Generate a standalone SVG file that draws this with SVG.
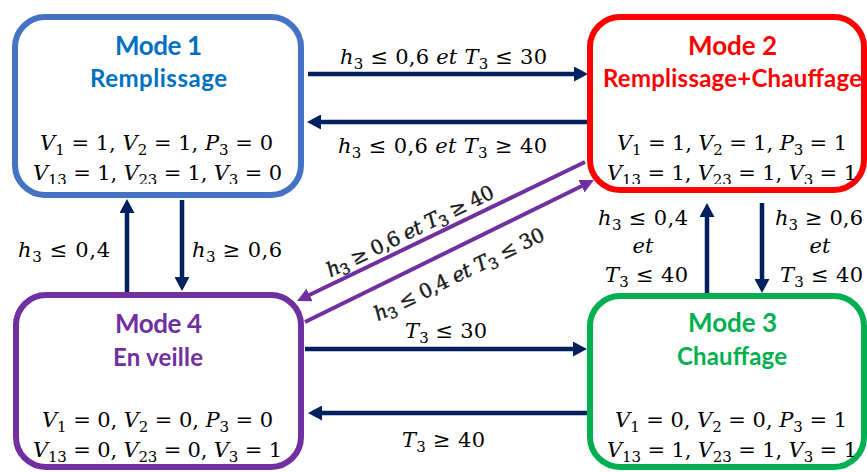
<svg xmlns="http://www.w3.org/2000/svg" width="867" height="472" viewBox="0 0 867 472">
<style>
.box{fill:#fff;stroke-width:6}
.t{font-family:Lato,"Open Sans","Liberation Sans",sans-serif;font-weight:700;text-anchor:middle}
.t1{font-size:26px}
.t2{font-size:24px}
.m{font-family:"DejaVu Serif","Liberation Serif",serif;font-size:21px;fill:#000}
.i{font-style:italic}
.s{font-size:15px;font-style:normal}
.a{stroke:#002060;stroke-width:4.5;fill:none}
.p{stroke:#7030A0;stroke-width:4;fill:none}
.dl{font-size:20px;fill:#1a1a1a;stroke:#1a1a1a;stroke-width:0.4}
</style>
<defs>
<marker id="ah" markerUnits="userSpaceOnUse" markerWidth="14" markerHeight="15" refX="9" refY="7.5" orient="auto">
<path d="M0,0 L14,7.5 L0,15 z" fill="#002060"/>
</marker>
<marker id="ph" markerUnits="userSpaceOnUse" markerWidth="14" markerHeight="14" refX="9" refY="7" orient="auto">
<path d="M0,0 L14,7 L0,14 z" fill="#7030A0"/>
</marker>
<clipPath id="cTop"><rect x="0" y="0" width="867" height="184"/></clipPath>
<clipPath id="cBot"><rect x="0" y="0" width="867" height="462"/></clipPath>
</defs>

<g id="connectors">
<line class="a" x1="308" y1="74" x2="583" y2="74" marker-end="url(#ah)"/>
<line class="a" x1="587" y1="122" x2="312" y2="122" marker-end="url(#ah)"/>
<line class="a" x1="127" y1="292" x2="127" y2="204" marker-end="url(#ah)"/>
<line class="a" x1="182" y1="200" x2="182" y2="286" marker-end="url(#ah)"/>
<line class="a" x1="707" y1="293" x2="707" y2="208" marker-end="url(#ah)"/>
<line class="a" x1="762" y1="203" x2="762" y2="288" marker-end="url(#ah)"/>
<line class="a" x1="305" y1="349" x2="582" y2="349" marker-end="url(#ah)"/>
<line class="a" x1="588" y1="413" x2="313" y2="413" marker-end="url(#ah)"/>
<line class="p" x1="585" y1="162" x2="301.5" y2="298.8" marker-end="url(#ph)"/>
<line class="p" x1="305" y1="322" x2="589.5" y2="182.2" marker-end="url(#ph)"/>

<text class="m" x="340" y="64" textLength="207"><tspan class="i">h</tspan><tspan class="s" dy="5">3</tspan><tspan dy="-5"> ≤ 0,6 </tspan><tspan class="i">et T</tspan><tspan class="s" dy="5">3</tspan><tspan dy="-5"> ≤ 30</tspan></text>
<text class="m" x="338" y="153" textLength="209"><tspan class="i">h</tspan><tspan class="s" dy="5">3</tspan><tspan dy="-5"> ≤ 0,6 </tspan><tspan class="i">et T</tspan><tspan class="s" dy="5">3</tspan><tspan dy="-5"> ≥ 40</tspan></text>
<text class="m" x="18" y="257" textLength="92"><tspan class="i">h</tspan><tspan class="s" dy="5">3</tspan><tspan dy="-5"> ≤ 0,4</tspan></text>
<text class="m" x="192" y="257" textLength="90"><tspan class="i">h</tspan><tspan class="s" dy="5">3</tspan><tspan dy="-5"> ≥ 0,6</tspan></text>
<text class="m" x="598" y="225" textLength="90"><tspan class="i">h</tspan><tspan class="s" dy="5">3</tspan><tspan dy="-5"> ≤ 0,4</tspan></text>
<text class="m i" x="643" y="253" text-anchor="middle">et</text>
<text class="m" x="605" y="282" textLength="83"><tspan class="i">T</tspan><tspan class="s" dy="5">3</tspan><tspan dy="-5"> ≤ 40</tspan></text>
<text class="m" x="775" y="225" textLength="88"><tspan class="i">h</tspan><tspan class="s" dy="5">3</tspan><tspan dy="-5"> ≥ 0,6</tspan></text>
<text class="m i" x="820" y="253" text-anchor="middle">et</text>
<text class="m" x="780" y="282" textLength="83"><tspan class="i">T</tspan><tspan class="s" dy="5">3</tspan><tspan dy="-5"> ≤ 40</tspan></text>
<text class="m" x="405" y="338" textLength="82"><tspan class="i">T</tspan><tspan class="s" dy="5">3</tspan><tspan dy="-5"> ≤ 30</tspan></text>
<text class="m" x="402" y="447" textLength="83"><tspan class="i">T</tspan><tspan class="s" dy="5">3</tspan><tspan dy="-5"> ≥ 40</tspan></text>
<g transform="translate(410,231) rotate(-26)">
<text class="m dl" x="-92" y="7" textLength="184"><tspan class="i">h</tspan><tspan class="s" font-size="14" dy="4">3</tspan><tspan dy="-4"> ≥ 0,6 </tspan><tspan class="i">et T</tspan><tspan class="s" font-size="14" dy="4">3</tspan><tspan dy="-4"> ≥ 40</tspan></text>
</g>
<g transform="translate(459,274) rotate(-26)">
<text class="m dl" x="-93.5" y="7" textLength="187"><tspan class="i">h</tspan><tspan class="s" font-size="14" dy="4">3</tspan><tspan dy="-4"> ≤ 0,4 </tspan><tspan class="i">et T</tspan><tspan class="s" font-size="14" dy="4">3</tspan><tspan dy="-4"> ≤ 30</tspan></text>
</g>
</g>

<g id="mode1">
<rect class="box" x="15" y="17" width="286" height="178" rx="30" stroke="#4472C4"/>
<text class="t t1" x="158.5" y="55" fill="#0070C0" textLength="87">Mode 1</text>
<text class="t t2" x="158.5" y="87" fill="#0070C0" textLength="137">Remplissage</text>
<text class="m" x="40" y="150" textLength="233"><tspan class="i">V</tspan><tspan class="s" dy="5">1</tspan><tspan dy="-5"> = 1, </tspan><tspan class="i">V</tspan><tspan class="s" dy="5">2</tspan><tspan dy="-5"> = 1, </tspan><tspan class="i">P</tspan><tspan class="s" dy="5">3</tspan><tspan dy="-5"> = 0</tspan></text>
<text class="m" x="33" y="180" textLength="249" clip-path="url(#cTop)"><tspan class="i">V</tspan><tspan class="s" dy="5">13</tspan><tspan dy="-5"> = 1, </tspan><tspan class="i">V</tspan><tspan class="s" dy="5">23</tspan><tspan dy="-5"> = 1, </tspan><tspan class="i">V</tspan><tspan class="s" dy="5">3</tspan><tspan dy="-5"> = 0</tspan></text>
</g>

<g id="mode2">
<rect class="box" x="590" y="17" width="274" height="173" rx="30" stroke="#FF0000"/>
<text class="t t1" x="732.5" y="55" fill="#FF0000" textLength="89">Mode 2</text>
<text class="t t2" x="732.5" y="87" fill="#FF0000" textLength="259">Remplissage+Chauffage</text>
<text class="m" x="617" y="150" textLength="230"><tspan class="i">V</tspan><tspan class="s" dy="5">1</tspan><tspan dy="-5"> = 1, </tspan><tspan class="i">V</tspan><tspan class="s" dy="5">2</tspan><tspan dy="-5"> = 1, </tspan><tspan class="i">P</tspan><tspan class="s" dy="5">3</tspan><tspan dy="-5"> = 1</tspan></text>
<text class="m" x="607" y="180" textLength="250" clip-path="url(#cTop)"><tspan class="i">V</tspan><tspan class="s" dy="5">13</tspan><tspan dy="-5"> = 1, </tspan><tspan class="i">V</tspan><tspan class="s" dy="5">23</tspan><tspan dy="-5"> = 1, </tspan><tspan class="i">V</tspan><tspan class="s" dy="5">3</tspan><tspan dy="-5"> = 1</tspan></text>
</g>

<g id="mode3">
<rect class="box" x="590" y="296" width="274" height="171" rx="30" stroke="#00B050"/>
<text class="t t1" x="732.5" y="332" fill="#00B050" textLength="89">Mode 3</text>
<text class="t t2" x="732" y="365" fill="#00B050" textLength="110">Chauffage</text>
<text class="m" x="615" y="427" textLength="232"><tspan class="i">V</tspan><tspan class="s" dy="5">1</tspan><tspan dy="-5"> = 0, </tspan><tspan class="i">V</tspan><tspan class="s" dy="5">2</tspan><tspan dy="-5"> = 0, </tspan><tspan class="i">P</tspan><tspan class="s" dy="5">3</tspan><tspan dy="-5"> = 1</tspan></text>
<text class="m" x="607" y="457" textLength="250" clip-path="url(#cBot)"><tspan class="i">V</tspan><tspan class="s" dy="5">13</tspan><tspan dy="-5"> = 1, </tspan><tspan class="i">V</tspan><tspan class="s" dy="5">23</tspan><tspan dy="-5"> = 1, </tspan><tspan class="i">V</tspan><tspan class="s" dy="5">3</tspan><tspan dy="-5"> = 1</tspan></text>
</g>

<g id="mode4">
<rect class="box" x="16" y="295" width="285" height="172" rx="30" stroke="#7030A0"/>
<text class="t t1" x="158.5" y="333" fill="#7030A0" textLength="87">Mode 4</text>
<text class="t t2" x="158" y="366" fill="#7030A0" textLength="90">En veille</text>
<text class="m" x="42" y="427" textLength="231"><tspan class="i">V</tspan><tspan class="s" dy="5">1</tspan><tspan dy="-5"> = 0, </tspan><tspan class="i">V</tspan><tspan class="s" dy="5">2</tspan><tspan dy="-5"> = 0, </tspan><tspan class="i">P</tspan><tspan class="s" dy="5">3</tspan><tspan dy="-5"> = 0</tspan></text>
<text class="m" x="33" y="457" textLength="249" clip-path="url(#cBot)"><tspan class="i">V</tspan><tspan class="s" dy="5">13</tspan><tspan dy="-5"> = 0, </tspan><tspan class="i">V</tspan><tspan class="s" dy="5">23</tspan><tspan dy="-5"> = 0, </tspan><tspan class="i">V</tspan><tspan class="s" dy="5">3</tspan><tspan dy="-5"> = 1</tspan></text>
</g>
</svg>
